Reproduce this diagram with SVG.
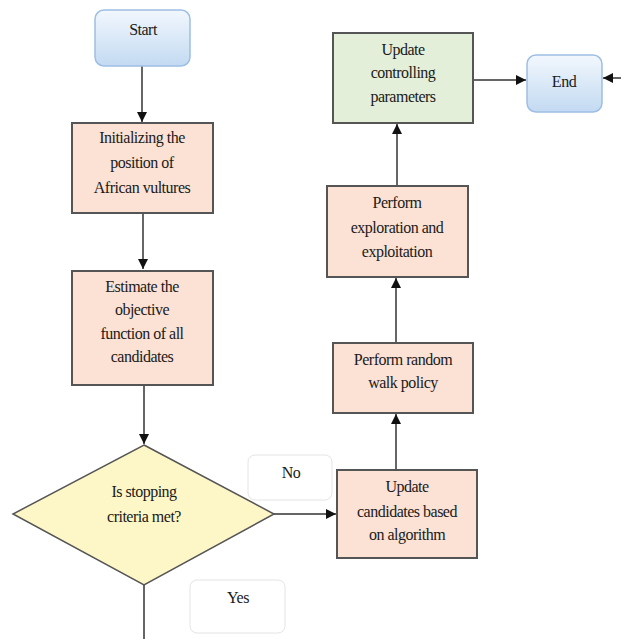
<svg xmlns="http://www.w3.org/2000/svg" width="621" height="639" viewBox="0 0 621 639">
<style>
.t{font-family:"Liberation Serif","Times New Roman",serif;font-size:16px;fill:#1a1a1a;text-anchor:middle;letter-spacing:-0.5px}
.proc{fill:#fbe2d5;stroke:#555;stroke-width:2}
.ctl{fill:#e3efd9;stroke:#555;stroke-width:2}
.term{fill:url(#blue);stroke:#9dbfe3;stroke-width:1.5}
.dec{fill:#fdf6c6;stroke:#555;stroke-width:1.5}
.lbl{fill:#fff;stroke:#e4e4e4;stroke-width:1}
.c{stroke:#333;stroke-width:1.5;fill:none}
</style>
<defs>
<linearGradient id="blue" x1="0" y1="0" x2="0" y2="1">
<stop offset="0" stop-color="#f2f7fd"/>
<stop offset="1" stop-color="#c3daf2"/>
</linearGradient>
<marker id="ah" viewBox="0 0 10 10" refX="10" refY="5" markerWidth="10" markerHeight="10" markerUnits="userSpaceOnUse" orient="auto">
<path d="M0,0 L10,5 L0,10 z" fill="#111"/>
</marker>
</defs>
<g id="connectors">
<line class="c" x1="142" y1="66" x2="142" y2="122" marker-end="url(#ah)"/>
<line class="c" x1="143" y1="213" x2="143" y2="269" marker-end="url(#ah)"/>
<line class="c" x1="144" y1="385" x2="144" y2="444" marker-end="url(#ah)"/>
<line class="c" x1="274" y1="514" x2="336" y2="514" marker-end="url(#ah)"/>
<line class="c" x1="144" y1="585" x2="144" y2="639"/>
<line class="c" x1="396" y1="470" x2="396" y2="414" marker-end="url(#ah)"/>
<line class="c" x1="396" y1="343" x2="396" y2="278" marker-end="url(#ah)"/>
<line class="c" x1="397" y1="186" x2="397" y2="124" marker-end="url(#ah)"/>
<line class="c" x1="473" y1="80" x2="526" y2="80" marker-end="url(#ah)"/>
<line class="c" x1="621" y1="78" x2="603" y2="78" marker-end="url(#ah)"/>
</g>
<g id="start">
<rect class="term" x="95" y="10" width="95" height="56" rx="9"/>
<text class="t" x="143" y="35">Start</text>
</g>
<g id="init">
<rect class="proc" x="72" y="123" width="141" height="90"/>
<text class="t" x="142" y="143">Initializing the</text>
<text class="t" x="142" y="168">position of</text>
<text class="t" x="142" y="193">African vultures</text>
</g>
<g id="estimate">
<rect class="proc" x="72" y="271" width="141" height="114"/>
<text class="t" x="142" y="292">Estimate the</text>
<text class="t" x="142" y="315">objective</text>
<text class="t" x="142" y="339">function of all</text>
<text class="t" x="142" y="362">candidates</text>
</g>
<g id="decision">
<polygon class="dec" points="144,445 274,514 144,585 13,514"/>
<text class="t" x="144" y="497">Is stopping</text>
<text class="t" x="144" y="522">criteria met?</text>
</g>
<g id="label-no">
<rect class="lbl" x="248" y="455" width="84" height="45" rx="7"/>
<text class="t" x="291" y="478">No</text>
</g>
<g id="label-yes">
<rect class="lbl" x="190" y="580" width="95" height="53" rx="7"/>
<text class="t" x="238" y="603">Yes</text>
</g>
<g id="update-candidates">
<rect class="proc" x="337" y="470" width="140" height="88"/>
<text class="t" x="407" y="492">Update</text>
<text class="t" x="407" y="517">candidates based</text>
<text class="t" x="407" y="540">on algorithm</text>
</g>
<g id="random-walk">
<rect class="proc" x="333" y="343" width="140" height="70"/>
<text class="t" x="403" y="365">Perform random</text>
<text class="t" x="403" y="388">walk policy</text>
</g>
<g id="explore">
<rect class="proc" x="327" y="186" width="141" height="91"/>
<text class="t" x="397" y="208">Perform</text>
<text class="t" x="397" y="233">exploration and</text>
<text class="t" x="397" y="257">exploitation</text>
</g>
<g id="update-params">
<rect class="ctl" x="333" y="33" width="140" height="90"/>
<text class="t" x="403" y="55">Update</text>
<text class="t" x="403" y="78">controlling</text>
<text class="t" x="403" y="102">parameters</text>
</g>
<g id="end">
<rect class="term" x="527" y="55" width="75" height="57" rx="9"/>
<text class="t" x="564" y="87">End</text>
</g>
</svg>
